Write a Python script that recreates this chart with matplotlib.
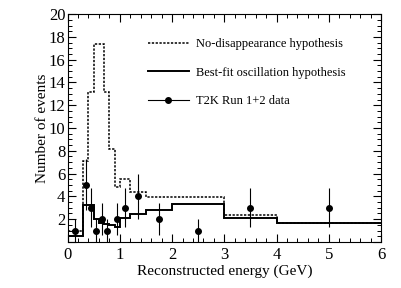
import numpy as np
import matplotlib
matplotlib.use("Agg")
import matplotlib.pyplot as plt
from matplotlib.lines import Line2D
from matplotlib.ticker import MultipleLocator, FuncFormatter

plt.rcParams['font.family'] = ['Liberation Serif', 'DejaVu Serif']

# бины по энергии (GeV)
bin_edges = [0, 0.3, 0.4, 0.5, 0.6, 0.7, 0.8, 0.9, 1.0, 1.2, 1.5, 2.0, 3.0, 4.0, 6.0]
no_disapp = [1.0, 7.1, 13.2, 17.4, 17.4, 13.2, 8.2, 4.85, 5.5, 4.4, 3.9, 3.9, 2.35, 1.67]
best_fit = [0.5, 3.2, 3.2, 2.05, 1.65, 1.6, 1.5, 1.3, 2.08, 2.46, 2.8, 3.35, 2.13, 1.62]

# данные T2K
data_e = [0.15, 0.35, 0.45, 0.55, 0.65, 0.75, 0.95, 1.1, 1.35, 1.75, 2.5, 3.5, 5.0]
data_n = [1, 5, 3, 1, 2, 1, 2, 3, 4, 2, 1, 3, 3]

fig = plt.figure(figsize=(4.02, 2.88), dpi=100)
ax = fig.add_axes([0.168, 0.160, 0.780, 0.791])

ax.stairs(no_disapp, bin_edges, baseline=None, color='black', lw=1.1,
          linestyle=(0, (1.5, 1.0)))
ax.stairs(best_fit, bin_edges, baseline=None, color='black', lw=1.4)

n = np.array(data_n, dtype=float)
ax.errorbar(data_e, n, yerr=np.sqrt(n), fmt='o', color='black', ms=4,
            elinewidth=0.8, capsize=0)

ax.set_xlim(0, 6)
ax.set_ylim(0, 20)
ax.xaxis.set_major_locator(MultipleLocator(1))
ax.xaxis.set_minor_locator(MultipleLocator(0.2))
ax.yaxis.set_major_locator(MultipleLocator(2))
ax.yaxis.set_minor_locator(MultipleLocator(0.5))
ax.yaxis.set_major_formatter(FuncFormatter(lambda v, p: '' if v == 0 else '%d' % v))
ax.tick_params(which='both', direction='in', top=True, right=True, labelsize=12)
ax.tick_params(axis='y', which='major', pad=1.5)
ax.tick_params(which='major', length=6, width=0.8)
ax.tick_params(which='minor', length=3, width=0.7)
for s in ax.spines.values():
    s.set_linewidth(0.8)

ax.set_xlabel("Reconstructed energy (GeV)", fontsize=11, labelpad=1)
ax.set_ylabel("Number of events", fontsize=11, labelpad=0)

handles = [
    Line2D([], [], color='black', lw=1.1, linestyle=(0, (1.5, 1.0))),
    Line2D([], [], color='black', lw=1.4),
    Line2D([], [], color='black', lw=0.8, marker='o', ms=4),
]
labels = ["No-disappearance hypothesis", "Best-fit oscillation hypothesis",
          "T2K Run 1+2 data"]
ax.legend(handles, labels, loc='upper left', bbox_to_anchor=(0.24, 0.915),
          frameon=False, fontsize=9, handlelength=3.3, handletextpad=0.55,
          labelspacing=1.3, borderaxespad=0)

fig.savefig('out.png', dpi=100)
